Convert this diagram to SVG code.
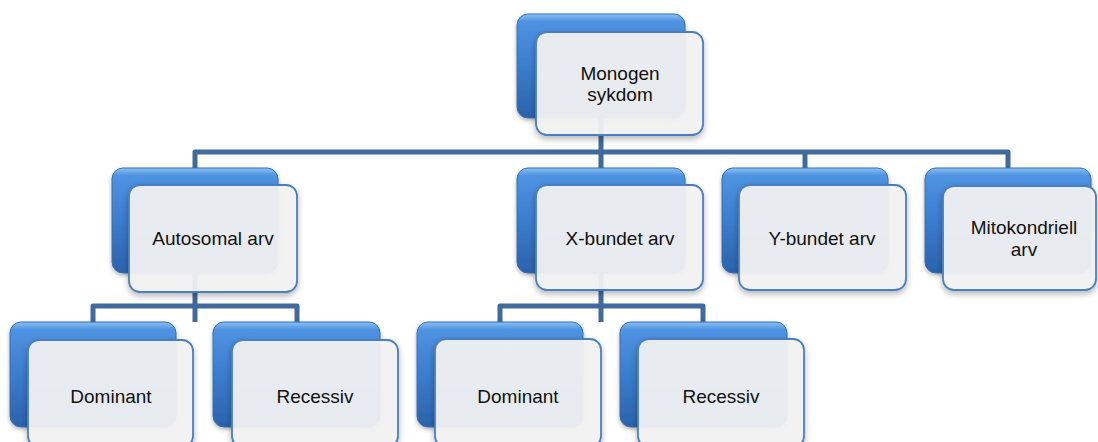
<svg xmlns="http://www.w3.org/2000/svg" width="1098" height="442" viewBox="0 0 1098 442">
<style>
.back{fill:url(#blueGrad);stroke:#3a6fb2;stroke-width:1;filter:url(#shBack)}
.front{fill:#f3f3f3;fill-opacity:0.93;stroke:#4a7fc0;stroke-width:1.8;filter:url(#shFront)}
.lbl{font-family:"Liberation Sans",Arial,sans-serif;font-size:19px;fill:#111;text-anchor:middle}
.conn{fill:none;stroke:#40699c;stroke-width:5;stroke-linejoin:round}
</style>
<defs>
<linearGradient id="blueGrad" x1="0" y1="0" x2="0" y2="1">
<stop offset="0" stop-color="#8cc2f2"/>
<stop offset="0.07" stop-color="#4f93e2"/>
<stop offset="0.5" stop-color="#3b7dce"/>
<stop offset="1" stop-color="#2b62ab"/>
</linearGradient>
<filter id="shBack" x="-10%" y="-10%" width="120%" height="130%">
<feDropShadow dx="0" dy="2" stdDeviation="2" flood-color="#000" flood-opacity="0.3"/>
</filter>
<filter id="shFront" x="-10%" y="-10%" width="120%" height="130%">
<feDropShadow dx="0" dy="3" stdDeviation="3" flood-color="#000" flood-opacity="0.3"/>
</filter>
</defs>
<rect width="1098" height="442" fill="#fff"/>
<g id="connectors">
<path class="conn" d="M601,118 V168"/>
<path class="conn" d="M195,168 V152 H1008 V168"/>
<path class="conn" d="M805,152 V168"/>
<path class="conn" d="M195,273 V322"/>
<path class="conn" d="M93,322 V306 H297 V322"/>
<path class="conn" d="M601,273 V322"/>
<path class="conn" d="M500,322 V306 H703 V322"/>
</g>
<g id="node-monogen">
<rect class="back" x="517" y="14" width="168" height="104" rx="11"/>
<rect class="front" x="536" y="32" width="167" height="103" rx="11"/>
<text class="lbl" x="620" y="80">Monogen</text>
<text class="lbl" x="620" y="101">sykdom</text>
</g>
<g id="node-autosomal">
<rect class="back" x="112" y="168" width="166" height="105" rx="11"/>
<rect class="front" x="129" y="185" width="168" height="107" rx="11"/>
<text class="lbl" x="213" y="245">Autosomal arv</text>
</g>
<g id="node-xbundet">
<rect class="back" x="517" y="168" width="168" height="105" rx="11"/>
<rect class="front" x="536" y="185" width="167" height="105" rx="11"/>
<text class="lbl" x="620" y="245">X-bundet arv</text>
</g>
<g id="node-ybundet">
<rect class="back" x="722" y="168" width="166" height="105" rx="11"/>
<rect class="front" x="739" y="185" width="167" height="105" rx="11"/>
<text class="lbl" x="822" y="245">Y-bundet arv</text>
</g>
<g id="node-mitokondriell">
<rect class="back" x="925" y="168" width="166" height="105" rx="11"/>
<rect class="front" x="943" y="186" width="153" height="104" rx="11"/>
<text class="lbl" x="1024" y="234">Mitokondriell</text>
<text class="lbl" x="1024" y="256">arv</text>
</g>
<g id="node-dominant-1">
<rect class="back" x="10" y="322" width="166" height="105" rx="11"/>
<rect class="front" x="28" y="340" width="165" height="107" rx="11"/>
<text class="lbl" x="111" y="403">Dominant</text>
</g>
<g id="node-recessiv-1">
<rect class="back" x="213" y="322" width="167" height="105" rx="11"/>
<rect class="front" x="232" y="340" width="166" height="107" rx="11"/>
<text class="lbl" x="315" y="403">Recessiv</text>
</g>
<g id="node-dominant-2">
<rect class="back" x="417" y="322" width="166" height="105" rx="11"/>
<rect class="front" x="435" y="339" width="166" height="108" rx="11"/>
<text class="lbl" x="518" y="403">Dominant</text>
</g>
<g id="node-recessiv-2">
<rect class="back" x="620" y="322" width="167" height="105" rx="11"/>
<rect class="front" x="638" y="339" width="166" height="108" rx="11"/>
<text class="lbl" x="721" y="403">Recessiv</text>
</g>
</svg>
